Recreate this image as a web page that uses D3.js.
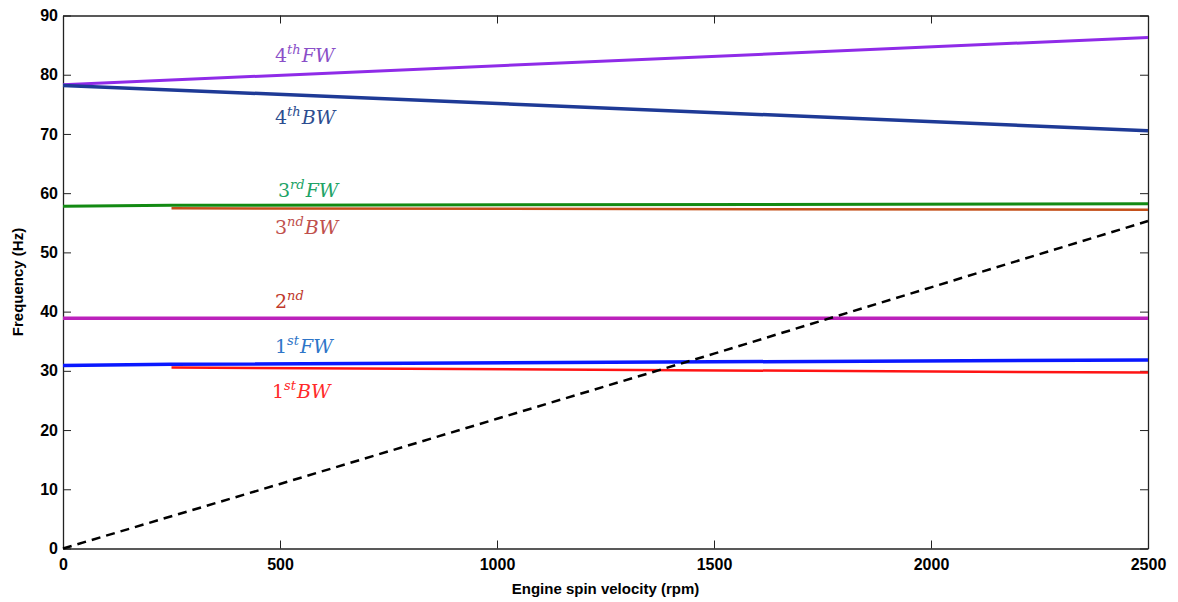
<!DOCTYPE html>
<html><head><meta charset="utf-8">
<script src="https://cdn.jsdelivr.net/npm/d3@7"></script>
<style>body{margin:0;background:#fff}svg{display:block}</style>
</head><body><svg id="c" width="1178" height="602"></svg>
<script>
const xTicks=[0,500,1000,1500,2000,2500];
const yTicks=[0,10,20,30,40,50,60,70,80,90];
const rpm4FW=[0,2500], f4FW=[78.3,86.3];
const rpm4BW=[0,2500], f4BW=[78.2,70.55];
const rpm3FW=[0,250,2500], f3FW=[57.8,57.95,58.2];
const rpm3BW=[250,2500], f3BW=[57.45,57.2];
const rpm2=[0,2500], f2=[38.9,38.9];
const rpm1FW=[0,250,2500], f1FW=[30.9,31.1,31.85];
const rpm1BW=[250,2500], f1BW=[30.55,29.7];
const rpmEx=[0,500,1000,1500,2000,2500], fEx=[0,10.9,21.9,32.9,44.1,55.3];
const labels=[
 {n:"4",s:"th",t:"FW",x:240,y:62,c:"#8a4fc8"},
 {n:"4",s:"th",t:"BW",x:240,y:124,c:"#2d4d8f"},
 {n:"3",s:"rd",t:"FW",x:243,y:197,c:"#21a366"},
 {n:"3",s:"nd",t:"BW",x:240,y:234,c:"#c0504d"},
 {n:"2",s:"nd",t:"",x:240,y:308,c:"#c0392b"},
 {n:"1",s:"st",t:"FW",x:240,y:353,c:"#2e75c8"},
 {n:"1",s:"st",t:"BW",x:237,y:398,c:"#ff2a2a"}
];
const svg=d3.select("#c");
const L=63,R=1148,T=15.5,B=548.5;
const x=d3.scaleLinear().domain([0,2500]).range([L,R]);
const y=d3.scaleLinear().domain([0,90]).range([B,T]);
const ax=svg.append("g").attr("font-family","Liberation Sans, Arial, sans-serif").attr("font-weight","bold").attr("font-size",15);
const gx=ax.append("g").attr("transform",`translate(0,${B})`).call(d3.axisBottom(x).tickValues(xTicks).tickFormat(d3.format("d")).tickSizeInner(-8).tickSizeOuter(0).tickPadding(8));
const gy=ax.append("g").attr("transform",`translate(${L},0)`).call(d3.axisLeft(y).tickValues(yTicks).tickFormat(d3.format("d")).tickSizeInner(-8).tickSizeOuter(0).tickPadding(5));
const gt=ax.append("g").attr("transform",`translate(0,${T})`).call(d3.axisTop(x).tickValues(xTicks).tickSizeInner(-8).tickSizeOuter(0).tickFormat(""));
const gr=ax.append("g").attr("transform",`translate(${R},0)`).call(d3.axisRight(y).tickValues(yTicks).tickSizeInner(-8).tickSizeOuter(0).tickFormat(""));
[gx,gy,gt,gr].forEach(g=>{g.selectAll("text").attr("font-family","Liberation Sans, Arial, sans-serif").attr("font-weight","bold").attr("font-size",16).attr("fill","#000");g.select(".domain").attr("stroke","#222").attr("stroke-width",1.3);g.selectAll(".tick line").attr("stroke","#222");});
gx.selectAll("text").attr("dy","0.85em");
ax.append("text").attr("x",(L+R)/2).attr("y",594).attr("text-anchor","middle").attr("font-size",15).text("Engine spin velocity (rpm)");
ax.append("text").attr("transform",`translate(23,${(T+B)/2}) rotate(-90)`).attr("text-anchor","middle").attr("font-size",15).text("Frequency (Hz)");
const line=d3.line().x(d=>x(d[0])).y(d=>y(d[1]));
const plot=svg.append("g");
function draw(r,f,c,w,dash){plot.append("path").datum(r.map((v,i)=>[v,f[i]])).attr("d",line).attr("fill","none").attr("stroke",c).attr("stroke-width",w).attr("stroke-dasharray",dash||null);}
draw(rpm4FW,f4FW,"#8f2be8",3);
draw(rpm4BW,f4BW,"#1e3a96",3.5);
draw(rpm3FW,f3FW,"#138a13",3);
draw(rpm3BW,f3BW,"#c4501a",2.5);
draw(rpm2,f2,"#bb22bb",3.5);
draw(rpm1FW,f1FW,"#0a18ff",3.5);
draw(rpm1BW,f1BW,"#ff1414",2.5);
draw(rpmEx,fEx,"#000",2.5,"9,6");
const lg=svg.append("g").attr("font-family","DejaVu Serif, Liberation Serif, serif");
labels.forEach(l=>{
 const t=lg.append("text").attr("x",l.x+35).attr("y",l.y).attr("fill",l.c).attr("font-size",19);
 t.append("tspan").text(l.n);
 t.append("tspan").attr("dy",-8).attr("font-size",13).attr("font-style","italic").text(l.s);
 t.append("tspan").attr("dy",8).attr("dx",1).attr("font-style","italic").text(l.t);
});
</script></body></html>
